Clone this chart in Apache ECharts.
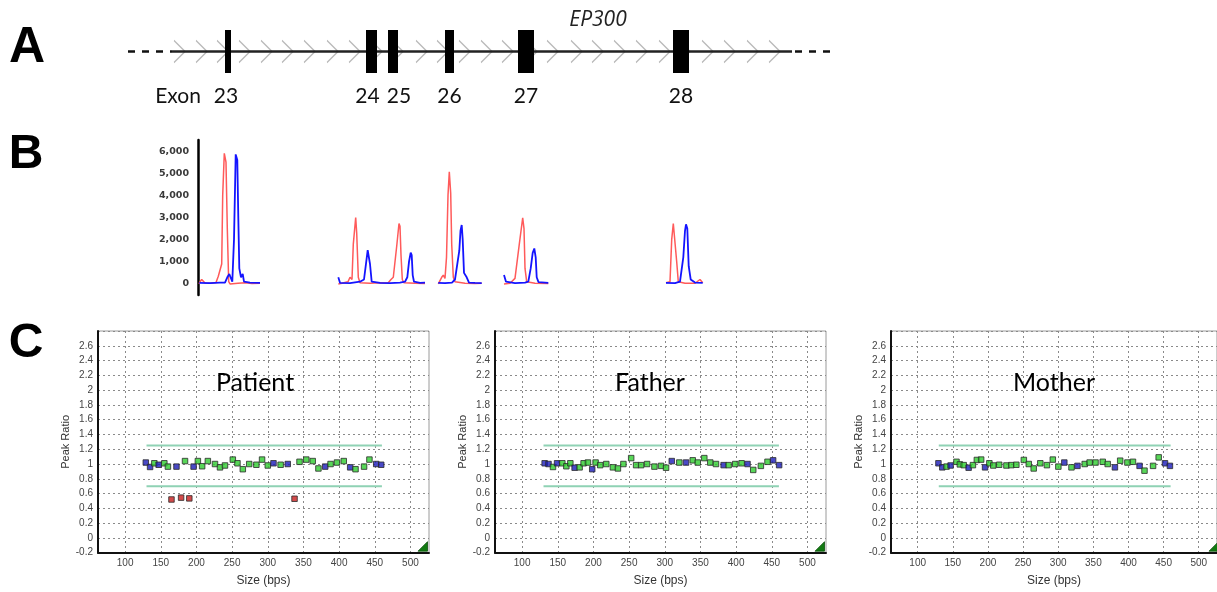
<!DOCTYPE html>
<html><head><meta charset="utf-8">
<script src="https://cdn.jsdelivr.net/npm/echarts@6/dist/echarts.min.js"></script>
<style>html,body{margin:0;padding:0;background:#fff}#c{width:1217px;height:592px}</style>
</head><body><div id="c"></div>
<script>
// ---------- Panel A : EP300 gene structure (relative position units) ----------
const exonNames = ['23', '24', '25', '26', '27', '28'];
const exonStart = [95, 236, 258, 315, 388, 543];
const exonEnd   = [101, 247, 268, 324, 404, 559];
const intronSpan = [42, 662];
const leftDash = [-2, 42];
const rightDash = [665, 705];
const chevronTips = [55, 77, 98, 120, 142, 163, 185, 208, 230, 252, 273, 297, 318, 340, 362, 383, 407, 428, 452, 473, 495, 517, 540, 560, 583, 605, 628, 650];

// ---------- Panel B : electropherogram traces (position, fluorescence) ----------
const yTicksB = [0, 1000, 2000, 3000, 4000, 5000, 6000];
const redSeg1 = [[69,0],[70,100],[71.7,200],[73.5,150],[75,40],[80,30],[86,60],[88.3,350],[90,300],[91.7,900],[92.7,4000],[94.3,5900],[96,5500],[97.3,2500],[98.7,100],[100,0],[108,30],[115,50],[122,20],[130,30]];
const blueSeg1 = [[69.3,50],[80,40],[90,60],[95,60],[97.3,300],[99.3,450],[100.7,400],[102.3,100],[104,2000],[105.7,5850],[107.3,5600],[108.3,3000],[109.3,700],[111,300],[112.7,450],[114,100],[120,60],[130,50]];
const redSeg2 = [[208.3,0],[212,30],[218,100],[220,300],[222,200],[223.3,1800],[225.7,3000],[226.7,2300],[228.3,300],[230,50],[240,30],[250,50],[258,40],[261,200],[263.3,300],[266.7,1700],[269,2730],[270,2600],[271,1300],[272.3,200],[274,50],[285,30],[295,20]];
const blueSeg2 = [[208.3,300],[210,50],[220,40],[230,100],[232,150],[234,200],[235.7,800],[237.7,1530],[239.3,1500],[240,900],[241.7,100],[250,50],[260,40],[270,60],[275,100],[277.3,300],[279,1000],[280.7,1410],[281.7,1300],[282.7,400],[284,100],[290,50],[295,60]];
const redSeg3 = [[308.3,0],[311.7,300],[313.3,400],[315,250],[316.5,1200],[318,4000],[319.3,5060],[320.7,4100],[321.7,1800],[323.3,300],[325,100],[335,30],[345,20],[351.7,30]];
const blueSeg3 = [[308.3,50],[315,40],[322,60],[325,200],[327,250],[329.3,1500],[330.5,2400],[331.7,2660],[332.7,2000],[334,500],[336.7,300],[339,60],[345,50],[351.7,40]];
const redSeg4 = [[374,0],[380,30],[385,250],[387,300],[389.3,1800],[392.7,2990],[394,2500],[395,700],[396.7,100],[405,30],[418.3,20]];
const blueSeg4 = [[374,400],[376,100],[385,40],[395,60],[398.3,100],[400.7,700],[402.7,1400],[404.3,1600],[405.7,1200],[406.7,300],[408.5,80],[418.3,50]];
const redSeg5 = [[536,50],[540,100],[541.7,2000],[543.3,2730],[545,2700],[546.7,1000],[548.3,100],[555,30],[565,30],[570,200],[572.7,50]];
const blueSeg5 = [[536,50],[545,40],[550,100],[553.3,1200],[555,2400],[556,2690],[557.3,2500],[558.7,800],[560.7,200],[565,60],[572.7,50]];

// ---------- Panel C : MLPA peak ratios ----------
const xTicksC = [100, 150, 200, 250, 300, 350, 400, 450, 500];
const thresholdUpper = 1.25;
const thresholdLower = 0.7;
const thresholdSpan = [130, 460];
// probe type: b = reference probe, g = target probe, r = deleted probe
const patientSize  = [129,135,141,147,155,160,165,172,178.5,184,190,196,202,208,216,226,233,240,251,257.5,265,274,284,292,300,308,318,328,337.5,344.5,354,363,371,380.5,388,397,406.5,415.5,423,435,442.5,452,459];
const patientRatio = [1.02,0.96,1.01,0.99,1.01,0.965,0.52,0.965,0.545,1.04,0.535,0.965,1.04,0.97,1.04,1.0,0.955,0.98,1.06,1.01,0.93,1.0,0.99,1.06,0.98,1.01,0.99,1.0,0.53,1.03,1.06,1.04,0.94,0.965,1.0,1.02,1.04,0.955,0.93,0.965,1.06,1.0,0.99];
const patientType  = ['b','b','g','b','g','g','r','b','r','g','r','b','g','g','g','g','g','g','g','g','g','g','g','g','g','b','g','b','r','g','g','g','g','b','g','g','g','b','g','g','g','b','b'];
const fatherSize  = [131.6,137,143.3,149,156.4,162,167.6,173.6,180.6,186.2,192.3,198.3,203,209.5,218,227.3,234.3,242,252.9,259.8,266.8,275.2,285.5,294.8,301.8,309.8,320.4,329.8,339.2,346.2,355.4,363.8,371.8,382.5,389.5,398.8,407.7,416,424,434.7,444,451.9,460.3];
const fatherRatio = [1.01,1.0,0.96,1.01,1.01,0.97,1.01,0.95,0.955,1.01,1.02,0.93,1.02,0.985,1.0,0.955,0.94,1.0,1.08,0.985,0.985,1.0,0.965,0.975,0.95,1.04,1.02,1.02,1.05,1.02,1.08,1.02,1.0,0.985,0.985,1.0,1.01,1.0,0.92,0.975,1.03,1.05,0.985];
const fatherType  = ['b','b','g','b','g','g','g','b','g','g','g','b','g','g','g','g','g','g','g','g','g','g','g','g','g','b','g','b','g','g','g','g','g','b','g','g','g','b','g','g','g','b','b'];
const motherSize  = [129.5,135,141,146.8,155.2,160,165.5,172.5,178.6,184.2,190.3,195.9,202,207.6,216,226.3,233.3,240.4,251.1,258.1,265.1,274.5,283.9,292.3,300.2,308.7,318.9,327.4,337.7,344.7,353.1,363.4,370.4,380.7,388.2,398.5,406.4,415.8,422.8,435,443,452,459];
const motherRatio = [1.01,0.955,0.965,0.98,1.03,0.995,0.985,0.95,0.985,1.055,1.06,0.955,1.01,0.98,0.99,0.98,0.985,0.99,1.055,1.0,0.94,1.01,0.985,1.06,0.965,1.02,0.955,0.975,1.0,1.02,1.02,1.03,1.0,0.955,1.045,1.02,1.03,0.975,0.91,0.975,1.09,1.01,0.975];
const motherType  = ['b','b','g','b','g','g','g','b','g','g','g','b','g','g','g','g','g','g','g','g','g','g','g','g','g','b','g','b','g','g','g','g','g','b','g','g','g','b','g','g','g','b','b'];

// ---------- build ----------
const chart = echarts.init(document.getElementById('c'), null, {renderer: 'canvas'});
const typeColor = {b: '#1c1cb8', g: '#2ecc2e', r: '#c81e1e'};
const labelShift = [-2, -4, 6, 0, 0, 0];

const grids = [
  {left: 120, top: 30, width: 720, height: 43},            // A
  {left: 198, top: 140, width: 522, height: 155},          // B
  {left: 98, top: 331, width: 331, height: 221.7},         // C patient
  {left: 495, top: 331, width: 331, height: 221.7},        // C father
  {left: 891, top: 331, width: 331, height: 221.7}         // C mother
];
grids.forEach((g, i) => { if (i >= 2) { g.show = true; g.borderColor = '#9a9a9a'; g.borderWidth = 1; g.backgroundColor = '#fff'; } });

const xAxes = [
  {gridIndex: 0, type: 'value', min: -10, max: 710, show: false},
  {gridIndex: 1, type: 'value', min: 68, max: 590, show: false}
];
const yAxes = [
  {gridIndex: 0, type: 'value', min: -1, max: 1, show: false},
  {gridIndex: 1, type: 'value', min: -500, max: 6500,
   axisLine: {show: true, lineStyle: {color: '#000', width: 2.5}},
   axisTick: {show: false, customValues: yTicksB},
   splitLine: {show: false},
   axisLabel: {customValues: yTicksB, color: '#3a3a3a', fontFamily: 'DejaVu Sans', fontWeight: 'bold', fontSize: 9.5, margin: 9}}
];
for (let k = 0; k < 3; k++) {
  const gi = k + 2;
  xAxes.push({gridIndex: gi, type: 'value', min: 62, max: 526,
    name: 'Size (bps)', nameLocation: 'middle', nameGap: 22,
    nameTextStyle: {fontFamily: 'Liberation Sans', fontSize: 12, color: '#333'},
    axisLine: {show: true, onZero: false, lineStyle: {color: '#111', width: 2}},
    axisTick: {show: false, customValues: xTicksC},
    axisLabel: {customValues: xTicksC, fontFamily: 'Liberation Sans', fontSize: 10, color: '#444', margin: 6},
    splitLine: {show: true, lineStyle: {color: '#8a8a8a', type: [2, 3], width: 1}}
  });
  yAxes.push({gridIndex: gi, type: 'value', min: -0.2, max: 2.8, interval: 0.2,
    name: 'Peak Ratio', nameLocation: 'middle', nameGap: 27,
    nameTextStyle: {fontFamily: 'Liberation Sans', fontSize: 11, color: '#333'},
    axisLine: {show: true, lineStyle: {color: '#111', width: 2}},
    axisTick: {show: false},
    axisLabel: {showMaxLabel: false, fontFamily: 'Liberation Sans', fontSize: 10, color: '#444', margin: 5,
      formatter: v => String(Math.round(v * 10) / 10)},
    splitLine: {show: true, lineStyle: {color: '#8a8a8a', type: [2, 3], width: 1}}
  });
}

const series = [];
// Panel A
series.push({type: 'line', xAxisIndex: 0, yAxisIndex: 0, data: [[leftDash[0], 0], [leftDash[1], 0]], symbol: 'none',
  lineStyle: {color: '#111', width: 2.5, type: [7, 7]}, z: 3, silent: true});
series.push({type: 'line', xAxisIndex: 0, yAxisIndex: 0, data: [[rightDash[0], 0], [rightDash[1], 0]], symbol: 'none',
  lineStyle: {color: '#111', width: 2.5, type: [7, 7]}, z: 3, silent: true});
series.push({type: 'scatter', xAxisIndex: 0, yAxisIndex: 0, data: chevronTips.map(t => [t, 0]),
  symbol: 'path://M0,0L10,11L0,22', symbolSize: [11, 22], symbolOffset: [-5.5, 0],
  itemStyle: {color: 'rgba(0,0,0,0)', borderColor: '#a8a8a8', borderWidth: 1.3}, z: 2, silent: true});
series.push({type: 'line', xAxisIndex: 0, yAxisIndex: 0, data: [[intronSpan[0], 0], [intronSpan[1], 0]], symbol: 'none',
  lineStyle: {color: '#222', width: 2.5}, z: 3, silent: true});
series.push({type: 'custom', xAxisIndex: 0, yAxisIndex: 0, z: 4, silent: true,
  data: exonStart.map((s, i) => [s, exonEnd[i]]),
  renderItem: (params, api) => {
    const a = api.coord([api.value(0), 1]);
    const b = api.coord([api.value(1), -1]);
    return {type: 'group', children: [
      {type: 'rect', shape: {x: a[0], y: a[1], width: b[0] - a[0], height: b[1] - a[1]}, style: {fill: '#000'}},
      {type: 'text', style: {text: exonNames[params.dataIndex], x: (a[0] + b[0]) / 2 + labelShift[params.dataIndex], y: b[1] + 23,
        align: 'center', verticalAlign: 'middle', fontSize: 21, fontFamily: 'Lato', fill: '#111'}}
    ]};
  }});
// Panel B
[[redSeg1, blueSeg1], [redSeg2, blueSeg2], [redSeg3, blueSeg3], [redSeg4, blueSeg4], [redSeg5, blueSeg5]].forEach(pair => {
  series.push({type: 'line', xAxisIndex: 1, yAxisIndex: 1, data: pair[0], symbol: 'none',
    lineStyle: {color: '#ff5a5a', width: 1.5}, z: 2, silent: true});
  series.push({type: 'line', xAxisIndex: 1, yAxisIndex: 1, data: pair[1], symbol: 'none',
    lineStyle: {color: '#1414ff', width: 1.8}, z: 3, silent: true});
});
// Panel C
[[patientSize, patientRatio, patientType], [fatherSize, fatherRatio, fatherType], [motherSize, motherRatio, motherType]].forEach((d, k) => {
  const ai = k + 2;
  series.push({type: 'line', xAxisIndex: ai, yAxisIndex: ai, data: [[thresholdSpan[0], thresholdUpper], [thresholdSpan[1], thresholdUpper]],
    symbol: 'none', lineStyle: {color: '#8fd2b4', width: 2}, z: 2, silent: true});
  series.push({type: 'line', xAxisIndex: ai, yAxisIndex: ai, data: [[thresholdSpan[0], thresholdLower], [thresholdSpan[1], thresholdLower]],
    symbol: 'none', lineStyle: {color: '#8fd2b4', width: 2}, z: 2, silent: true});
  series.push({type: 'scatter', xAxisIndex: ai, yAxisIndex: ai, symbol: 'rect', symbolSize: 5.5, z: 3, silent: true,
    data: d[0].map((s, i) => ({value: [s, d[1][i]], itemStyle: {color: typeColor[d[2][i]]}})),
    itemStyle: {borderColor: '#2a2a2a', borderWidth: 1}});
});

const txt = (text, x, y, font, extra) => Object.assign({type: 'text', x: x, y: y, z: 10, silent: true,
  style: Object.assign({text: text, font: font, fill: '#000', align: 'center', verticalAlign: 'middle'}, extra || {})});
const tri = (r, b) => ({type: 'polygon', z: 10, silent: true,
  shape: {points: [[r - 11, b - 1.5], [r - 1.5, b - 1.5], [r - 1.5, b - 11]]}, style: {fill: '#127a12', stroke: '#0b4f0b', lineWidth: 0.8}});

chart.setOption({
  animation: false,
  backgroundColor: '#fff',
  grid: grids, xAxis: xAxes, yAxis: yAxes, series: series,
  graphic: [
    txt('A', 27, 48, 'bold 50px "Liberation Sans"'),
    txt('B', 26, 155, 'bold 48px "Liberation Sans"'),
    txt('C', 26, 344, 'bold 48px "Liberation Sans"'),
    txt('EP300', 598, 20, 'italic 21px "Open Sans"', {fill: '#222'}),
    txt('Exon', 178, 96, '21px Lato', {fill: '#111'}),
    txt('Patient', 255, 383, '25px Lato'),
    txt('Father', 650, 383, '25px Lato'),
    txt('Mother', 1054, 383, '25px Lato'),
    tri(429, 552.7), tri(826, 552.7), tri(1220, 552.7)
  ]
});
</script></body></html>
